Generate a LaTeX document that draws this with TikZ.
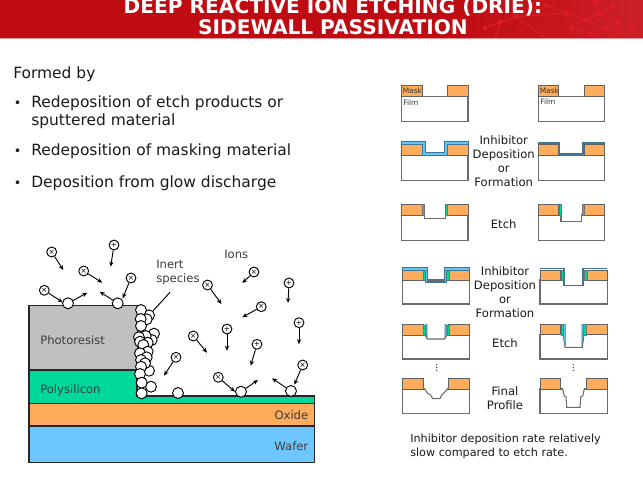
\documentclass[tikz,border=0pt]{standalone}
\usepackage{fontspec}
\setmainfont{DejaVu Sans}
\usetikzlibrary{arrows.meta}
\definecolor{hdr}{HTML}{BF0C12}
\definecolor{hdrr}{HTML}{CC2026}
\definecolor{hdrl}{HTML}{D31F27}
\definecolor{hdrd}{HTML}{E51A28}
\definecolor{orng}{HTML}{FFAD5C}
\definecolor{grn}{HTML}{00D89B}
\definecolor{wfr}{HTML}{6EC6FF}
\definecolor{res}{HTML}{C0C0C0}
\definecolor{lyr}{HTML}{66C4F0}
\definecolor{dlyr}{HTML}{3F7896}
\definecolor{txt}{HTML}{1A1A1A}
\tikzset{
  layer/.style={draw=black!85,line width=0.9pt},
  panel/.style={draw=black!58,line width=0.8pt,fill=white},
  maskbox/.style={draw=black!62,line width=0.6pt,fill=orng},
  gside/.style={fill=grn,draw=black!55,line width=0.25pt},
  bside/.style={fill=lyr,draw=dlyr,line width=0.5pt},
  dside/.style={draw=dlyr,line width=1.3pt,line join=miter},
  body/.style={anchor=base west,font=\fontsize{11.6}{14}\selectfont,text=txt,inner sep=0pt},
  bull/.style={anchor=base west,font=\fontsize{9.5}{14}\selectfont,text=txt,inner sep=0pt},
  lab/.style={anchor=base west,font=\fontsize{8.7}{10}\selectfont,text=txt!85,inner sep=0pt},
  note/.style={anchor=base west,font=\fontsize{8.4}{10}\selectfont,text=txt,inner sep=0pt},
  mid/.style={anchor=base,font=\fontsize{8.7}{10}\selectfont,text=txt,inner sep=0pt},
  tiny/.style={anchor=base west,font=\fontsize{5.6}{6}\selectfont,text=black!80,inner sep=0pt},
  title/.style={anchor=base,font=\bfseries\fontsize{15.1}{17}\selectfont,text=white,inner sep=0pt},
  ionball/.style={circle,draw=black,fill=white,line width=0.7pt,minimum size=7.4pt,inner sep=0pt,font=\fontsize{5.5}{5.5}\selectfont},
  inert/.style={circle,draw=black,fill=white,line width=0.7pt,minimum size=8.2pt,inner sep=0pt},
  fly/.style={draw=black,line width=0.7pt,-{Stealth[length=3.8pt,width=3.2pt]}},
}
% ion: id, x, y, symbol, tip x, tip y
\newcommand{\ionat}[6]{%
  \coordinate (t#1) at (#5,#6);
  \node[ionball] (i#1) at (#2,#3) {#4};
  \draw[fly] (i#1) -- (t#1);}
\newcommand{\gr}[3]{\node[inert] (#1) at (#2,#3) {};}
\newcommand{\filmbox}[4]{\draw[panel] (#1,#3) rectangle (#2,#4);}
\newcommand{\maskpair}[6]{%
  \draw[maskbox] (#1,#5) rectangle (#2,#6);
  \draw[maskbox] (#3,#5) rectangle (#4,#6);}
\begin{document}
\begin{tikzpicture}[x=0.75pt,y=-0.75pt]
\useasboundingbox (0,0) rectangle (643,478);
\fill[white] (0,0) rectangle (643,478);
% header
\fill[hdr] (0,0) rectangle (643,38);
\shade[left color=hdr,right color=hdrr] (450,0) rectangle (643,38);
\begin{scope}
\clip (0,0) rectangle (643,38);
\draw[hdrl,line width=1pt] (485,27.7)--(500.7,22)--(516,16.7)--(566.7,13)--(585,20)--(599.3,14)--(612.7,6.7) (566.7,13)--(571.7,27.7)--(591.7,34) (585,20)--(606,29)--(633,26.7) (595,1.7)--(599.3,14)--(618,21.7)--(618,32) (500.7,22)--(495,38) (516,16.7)--(545,38) (545.7,5)--(566.7,13);
\foreach \p/\q in {545.7/5,566.7/13,595/1.7,599.3/14,612.7/6.7,585/20,571.7/27.7,618/21.7,606/29,591.7/34,618/32,633/26.7,516/16.7,500.7/22,485/27.7}
  \fill[hdrd] (\p,\q) circle (2.3);
\end{scope}
\fill[hdr!45!white] (0,38) rectangle (643,39.5);
\node[title] (t1) at (333,13.3) {DEEP REACTIVE ION ETCHING (DRIE):};
\node[title] (t2) at (333,35) {SIDEWALL PASSIVATION};
% bullets
\node[body] (f0) at (13,79) {Formed by};
\node[bull] (b1) at (13.5,108) {•};
\node[body] (l1) at (31,108) {Redeposition of etch products or};
\node[body] (l1b) at (31,126) {sputtered material};
\node[bull] (b2) at (13.5,156) {•};
\node[body] (l2) at (31,156) {Redeposition of masking material};
\node[bull] (b3) at (13.5,187) {•};
\node[body] (l3) at (31,187) {Deposition from glow discharge};
% layers
\draw[layer,fill=wfr] (29,426) rectangle (314.5,462.3);
\draw[layer,fill=orng] (29,403.7) rectangle (314.5,426);
\draw[layer,fill=grn] (29,370) -- (137,370) -- (137,396) -- (314.5,396) -- (314.5,403.7) -- (29,403.7) -- cycle;
\draw[layer,fill=res] (29,305.7) rectangle (137.3,370);
\node[lab] (pr) at (40,344) {Photoresist};
\node[lab] (ps) at (40,393) {Polysilicon};
\node[lab,anchor=base east] (ox) at (308.5,419) {Oxide};
\node[lab,anchor=base east] (wf) at (308.5,450) {Wafer};
\node[lab] (ions) at (224,258) {Ions};
\node[lab] (in1) at (156,268) {Inert};
\node[lab] (in2) at (156,282) {species};
% inert stack
\coordinate (inA) at (170,292.3);
\gr{s1}{149}{315.3}
\gr{s2}{141}{310}
\gr{s3}{146.7}{319.3}
\gr{s4}{140.7}{319}
\gr{s5}{141}{326}
\gr{s6}{154}{333.7}
\gr{s7}{151.7}{340}
\gr{s8}{145.7}{336}
\gr{s9}{139}{337.3}
\gr{s10}{147.7}{342.7}
\gr{s11}{140}{341.7}
\gr{s12}{143.3}{345}
\gr{s13}{147.7}{351.7}
\gr{s14}{140}{353.3}
\gr{s15}{146.7}{357.3}
\gr{s16}{141}{360}
\gr{s17}{149}{370.7}
\gr{s18}{145}{363.3}
\gr{s19}{141}{366.7}
\gr{s20}{140}{374}
\gr{s21}{151}{386.7}
\gr{s22}{141.7}{382.7}
\gr{s23}{141.7}{393.3}
\draw[draw=black,line width=0.7pt] (inA) -- (s1);
% surface particles
\gr{w1}{68}{303.3}
\gr{w2}{117.7}{303.3}
\gr{w3}{178}{393}
\gr{w4}{241}{391.7}
\gr{w5}{291}{391}
\coordinate (e1) at (87.3,292.7);
\coordinate (e2) at (99.7,291.7);
\coordinate (e4) at (258,380);
\coordinate (e5) at (272,378.3);
\draw[fly] (w1) -- (e1);
\draw[fly] (w2) -- (e2);
\draw[fly] (w4) -- (e4);
\draw[fly] (w5) -- (e5);
% ions
\ionat{a}{51.7}{252}{×}{63.3}{270}
\ionat{b}{114}{245}{+}{110.7}{266.7}
\ionat{c}{83.7}{271}{×}{102.3}{282.7}
\ionat{d}{131}{278}{×}{122.7}{298.3}
\ionat{e}{44.3}{290.3}{×}{62.7}{302.3}
\ionat{f}{254}{272}{×}{242.3}{283}
\ionat{g}{289}{283}{+}{288}{303}
\ionat{h}{207.5}{285}{×}{221.5}{304}
\ionat{j}{261.3}{306.7}{×}{242.3}{317.3}
\ionat{k}{227}{329}{+}{227}{350.7}
\ionat{l}{299}{322.7}{+}{299}{344.3}
\ionat{m}{193.3}{336}{×}{207}{352.7}
\ionat{n}{257}{344.3}{+}{250.7}{365.7}
\ionat{o}{176}{357.3}{×}{164}{375.7}
\ionat{p}{302.7}{365}{×}{294.3}{384.7}
\ionat{q}{218.3}{377.3}{×}{235}{391.7}
% ---- right panels
% row 1
\filmbox{401.7}{468}{96.3}{121.3}
\maskpair{401.7}{422}{447.3}{468}{85.3}{96.3}
\node[tiny] (m1) at (402.5,93.5) {Mask};
\node[tiny] (fm1) at (403,106) {Film};
\filmbox{538.3}{604.7}{96.3}{121.3}
\maskpair{538.3}{558.7}{584}{604.7}{85.3}{96.3}
\node[tiny] (m2) at (539.5,93.5) {Mask};
\node[tiny] (fm2) at (540,105) {Film};
% row 2
\filmbox{401.7}{468}{155}{180.3}
\maskpair{401.7}{422}{447.3}{468}{144}{155}
\draw[bside] (401.7,141)--(425.3,141)--(425.3,152)--(444.3,152)--(444.3,141)--(468,141)--(468,144)--(447.3,144)--(447.3,155)--(422,155)--(422,144)--(401.7,144)--cycle;
\filmbox{538.3}{604.7}{155}{180.3}
\maskpair{538.3}{558.7}{584}{604.7}{144}{155}
\draw[dside] (538.3,143.3)--(559.5,143.3)--(559.5,154.3)--(583.2,154.3)--(583.2,143.3)--(604.7,143.3);
% row 3
\filmbox{401.7}{468}{215}{240.3}
\draw[panel] (424.4,215)--(424.4,218.3)--(445,218.3)--(445,215);
\fill[white] (424.9,214) rectangle (444.5,217.6);
\maskpair{401.7}{422}{447.3}{468}{204}{215}
\draw[gside] (422,204) rectangle (424.4,215);
\draw[gside] (445,204) rectangle (447.3,215);
\filmbox{538.3}{604.7}{215}{240.3}
\draw[panel] (561,215)--(561,221.5)--(581.7,221.5)--(581.7,215);
\fill[white] (561.5,214) rectangle (581.2,220.8);
\maskpair{538.3}{558.7}{584}{604.7}{204}{215}
\draw[gside] (558.7,204) rectangle (561,215);
\draw[gside] (581.7,204) rectangle (584,215);
% row 4
\filmbox{402.7}{469.7}{280}{304}
\maskpair{402.7}{423.3}{448.7}{469.7}{270}{280}
\draw[gside] (423.3,270) rectangle (425.5,280);
\draw[gside] (446.6,270) rectangle (448.7,280);
\draw[bside] (402.7,267.7)--(427.3,267.7)--(427.3,281)--(444.7,281)--(444.7,267.7)--(469.7,267.7)--(469.7,270)--(446.6,270)--(446.6,282.7)--(425.5,282.7)--(425.5,270)--(402.7,270)--cycle;
\filmbox{540}{607.3}{280}{304}
\fill[white] (564,279) rectangle (583.3,286);
\maskpair{540}{560.7}{586.7}{607.3}{270}{280}
\draw[gside] (560.7,270) rectangle (563.3,280);
\draw[gside] (584,270) rectangle (586.7,280);
\draw[dside] (540,268.5)--(564.2,268.5)--(564.2,285.5)--(583.2,285.5)--(583.2,268.5)--(607.3,268.5);
% row 5
\filmbox{402.7}{469.7}{335.3}{359}
\draw[panel] (425.5,335.3)--(427.3,339)--(444.5,339)--(446.6,335.3);
\fill[white] (426.2,334.4) rectangle (445.8,336);
\maskpair{402.7}{423.3}{448.7}{469.7}{324.7}{335.3}
\draw[gside] (423.3,324.7) rectangle (425.3,335.3);
\draw[gside] (446.8,324.7) rectangle (448.7,335.3);
\draw[bside] (425.3,324.7)--(427,324.7)--(427,337.5)--(425.8,335.5)--cycle;
\draw[bside] (446.8,324.7)--(445,324.7)--(445,337.5)--(446.6,335.5)--cycle;
\filmbox{540}{607.3}{334.7}{359}
\draw[panel] (563.5,334.7)--(565,347.3)--(582.3,347.3)--(584,334.7);
\fill[white] (564.2,334) rectangle (583.3,336);
\maskpair{540}{560.7}{586}{607.3}{324.3}{334.7}
\draw[gside] (560.7,324.3) rectangle (563.5,334.7);
\draw[gside] (583.3,324.3) rectangle (586,334.7);
\draw[bside,line width=0.3pt] (563.5,324.3)--(565.3,324.3)--(565.3,345)--(563.7,340)--cycle;
\draw[bside,line width=0.3pt] (583.3,324.3)--(581.8,324.3)--(581.8,345)--(583.1,340)--cycle;
% row 6
\filmbox{402.7}{469.7}{389}{413.3}
\fill[white] (425,388) rectangle (447,390);
\draw[panel] (423.3,389)--(424.7,389)--(427.7,393.3)--(430.7,395)--(432.7,398.7)--(440,398.7)--(441.7,395)--(444.3,392.7)--(447.3,389)--(448.7,389);
\maskpair{402.7}{423.3}{448.7}{469.7}{378.7}{389}
\filmbox{540}{607.3}{389}{413.3}
\fill[white] (563,388) rectangle (584,390);
\draw[panel] (560.7,389)--(562.7,389)--(564.3,396)--(566,396.7)--(566.7,407.3)--(580,407.3)--(580.7,396.7)--(582.7,396)--(584.3,389)--(586,389);
\maskpair{540}{560.7}{586}{607.3}{378.7}{389}
% dots
\foreach \y in {364.5,367.5,370.5} {
  \fill[black!70] (436.7,\y) circle (0.75);
  \fill[black!70] (573.3,\y) circle (0.75);
}
% right labels
\node[mid] (r1) at (503.7,144) {Inhibitor};
\node[mid] (r2) at (503.7,158.5) {Deposition};
\node[mid] (r3) at (503.7,172.5) {or};
\node[mid] (r4) at (503.7,186) {Formation};
\node[mid] (r5) at (503.7,228.5) {Etch};
\node[mid] (r6) at (505,275) {Inhibitor};
\node[mid] (r7) at (505,289) {Deposition};
\node[mid] (r8) at (505,303) {or};
\node[mid] (r9) at (505,317) {Formation};
\node[mid] (r10) at (505,347) {Etch};
\node[mid] (r11) at (505,395) {Final};
\node[mid] (r12) at (505,409) {Profile};
\node[note] (n1) at (410,442) {Inhibitor deposition rate relatively};
\node[note] (n2) at (410,456) {slow compared to etch rate.};
\end{tikzpicture}
\end{document}
